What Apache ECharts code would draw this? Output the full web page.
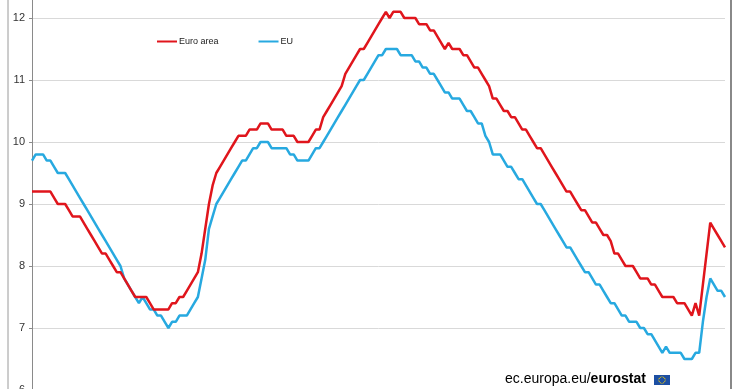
<!DOCTYPE html>
<html>
<head>
<meta charset="utf-8">
<script src="https://cdn.jsdelivr.net/npm/echarts@6/dist/echarts.min.js"></script>
<style>
html,body{margin:0;padding:0;background:#fff;}
#chart{width:740px;height:389px;}
</style>
</head>
<body>
<div id="chart"></div>
<script>
// Monthly unemployment rate (%), seasonally adjusted, 2005M01 - 2020M09
var startYear = 2005;
var seriesNames = ['Euro area', 'EU'];
var euroArea = [
 9.2,9.2,9.2,9.2,9.2,9.2,9.1,9.0,9.0,9.0,
 8.9,8.8,8.8,8.8,8.7,8.6,8.5,8.4,8.3,8.2,
 8.2,8.1,8.0,7.9,7.9,7.8,7.7,7.6,7.5,7.5,
 7.5,7.5,7.4,7.3,7.3,7.3,7.3,7.3,7.4,7.4,
 7.5,7.5,7.6,7.7,7.8,7.9,8.2,8.6,9.0,9.3,
 9.5,9.6,9.7,9.8,9.9,10.0,10.1,10.1,10.1,10.2,
 10.2,10.2,10.3,10.3,10.3,10.2,10.2,10.2,10.2,10.1,
 10.1,10.1,10.0,10.0,10.0,10.0,10.1,10.2,10.2,10.4,
 10.5,10.6,10.7,10.8,10.9,11.1,11.2,11.3,11.4,11.5,
 11.5,11.6,11.7,11.8,11.9,12.0,12.1,12.0,12.1,12.1,
 12.1,12.0,12.0,12.0,12.0,11.9,11.9,11.9,11.8,11.8,
 11.7,11.6,11.5,11.6,11.5,11.5,11.5,11.4,11.4,11.3,
 11.2,11.2,11.1,11.0,10.9,10.7,10.7,10.6,10.5,10.5,
 10.4,10.4,10.3,10.2,10.2,10.1,10.0,9.9,9.9,9.8,
 9.7,9.6,9.5,9.4,9.3,9.2,9.2,9.1,9.0,8.9,
 8.9,8.8,8.7,8.7,8.6,8.5,8.5,8.4,8.2,8.2,
 8.1,8.0,8.0,8.0,7.9,7.8,7.8,7.8,7.7,7.7,
 7.6,7.5,7.5,7.5,7.5,7.4,7.4,7.4,7.3,7.2,
 7.4,7.2,7.7,8.2,8.7,8.6,8.5,8.4,8.3
];
var eu = [
 9.7,9.8,9.8,9.8,9.7,9.7,9.6,9.5,9.5,9.5,
 9.4,9.3,9.2,9.1,9.0,8.9,8.8,8.7,8.6,8.5,
 8.4,8.3,8.2,8.1,8.0,7.8,7.7,7.6,7.5,7.4,
 7.5,7.4,7.3,7.3,7.2,7.2,7.1,7.0,7.1,7.1,
 7.2,7.2,7.2,7.3,7.4,7.5,7.8,8.1,8.6,8.8,
 9.0,9.1,9.2,9.3,9.4,9.5,9.6,9.7,9.7,9.8,
 9.9,9.9,10.0,10.0,10.0,9.9,9.9,9.9,9.9,9.9,
 9.8,9.8,9.7,9.7,9.7,9.7,9.8,9.9,9.9,10.0,
 10.1,10.2,10.3,10.4,10.5,10.6,10.7,10.8,10.9,11.0,
 11.0,11.1,11.2,11.3,11.4,11.4,11.5,11.5,11.5,11.5,
 11.4,11.4,11.4,11.4,11.3,11.3,11.2,11.2,11.1,11.1,
 11.0,10.9,10.8,10.8,10.7,10.7,10.7,10.6,10.5,10.5,
 10.4,10.3,10.3,10.1,10.0,9.8,9.8,9.8,9.7,9.6,
 9.6,9.5,9.4,9.4,9.3,9.2,9.1,9.0,9.0,8.9,
 8.8,8.7,8.6,8.5,8.4,8.3,8.3,8.2,8.1,8.0,
 7.9,7.9,7.8,7.7,7.7,7.6,7.5,7.4,7.4,7.3,
 7.2,7.2,7.1,7.1,7.1,7.0,7.0,6.9,6.9,6.8,
 6.7,6.6,6.7,6.6,6.6,6.6,6.6,6.5,6.5,6.5,
 6.6,6.6,7.1,7.5,7.8,7.7,7.6,7.6,7.5
];
var yTicks = [6, 7, 8, 9, 10, 11, 12, 13];

var months = [];
for (var k = 0; k < euroArea.length; k++) {
  var yr = startYear + Math.floor(k / 12);
  var m = (k % 12) + 1;
  months.push(yr + 'M' + (m < 10 ? '0' + m : m));
}

var chart = echarts.init(document.getElementById('chart'), null, {renderer: 'canvas'});

// EU flag stars ring (decoration)
var flagStars = [];
var cx = 662, cy = 380, r = 3.2;
for (var s = 0; s < 12; s++) {
  var a = s * Math.PI / 6;
  flagStars.push({type: 'circle', shape: {cx: cx + r * Math.cos(a), cy: cy + r * Math.sin(a), r: 0.55}, style: {fill: '#ffd400'}, z: 101});
}

var option = {
  animation: false,
  backgroundColor: '#ffffff',
  grid: {left: 32, right: 15, top: -44, bottom: -1, containLabel: false, outerBoundsMode: 'none'},
  legend: {
    data: seriesNames,
    left: 152, top: 32,
    itemWidth: 20, itemHeight: 10, itemGap: 40,
    icon: 'path://M0,4 L20,4 L20,6 L0,6 Z',
    textStyle: {fontFamily: 'Liberation Sans, Arial, sans-serif', fontSize: 9, color: '#222', padding: [0, 0, 0, -3]}
  },
  xAxis: {
    type: 'category', data: months, boundaryGap: false,
    axisLine: {show: true, lineStyle: {color: '#888'}},
    axisTick: {show: false}, axisLabel: {show: false}, splitLine: {show: false}
  },
  yAxis: {
    type: 'value', min: yTicks[0], max: yTicks[yTicks.length - 1], interval: 1,
    axisLine: {show: true, lineStyle: {color: '#8a8a8a', width: 1}},
    axisTick: {show: true, inside: false, length: 3, lineStyle: {color: '#8a8a8a'}},
    axisLabel: {fontFamily: 'Liberation Sans, Arial, sans-serif', fontSize: 11, color: '#333', margin: 7},
    splitLine: {show: true, lineStyle: {color: '#d9d9d9', width: 1}}
  },
  series: [
    {name: seriesNames[0], type: 'line', data: euroArea, showSymbol: false, symbol: 'none',
     lineStyle: {color: '#e0151c', width: 2.5}, itemStyle: {color: '#e0151c'}, z: 3},
    {name: seriesNames[1], type: 'line', data: eu, showSymbol: false, symbol: 'none',
     lineStyle: {color: '#27a9e0', width: 2.5}, itemStyle: {color: '#27a9e0'}, z: 2}
  ],
  graphic: [
    {type: 'line', shape: {x1: 8, y1: 0, x2: 8, y2: 389}, style: {stroke: '#9a9a9a', lineWidth: 1}, z: 100},
    {type: 'line', shape: {x1: 731, y1: 0, x2: 731, y2: 389}, style: {stroke: '#3a3a3a', lineWidth: 1.2}, z: 100},
    {type: 'text', left: 505, top: 372, z: 100,
     style: {
       text: '{a|ec.europa.eu/}{b|eurostat}',
       rich: {
         a: {fontFamily: 'Liberation Sans, Arial, sans-serif', fontSize: 14, color: '#7a7a7a'},
         b: {fontFamily: 'Liberation Sans, Arial, sans-serif', fontSize: 14, fontWeight: 'bold', color: '#454545'}
       }
     }},
    {type: 'rect', shape: {x: 654, y: 375, width: 16, height: 10}, style: {fill: '#1d4fa3'}, z: 100}
  ].concat(flagStars)
};
chart.setOption(option);
</script>
</body>
</html>
